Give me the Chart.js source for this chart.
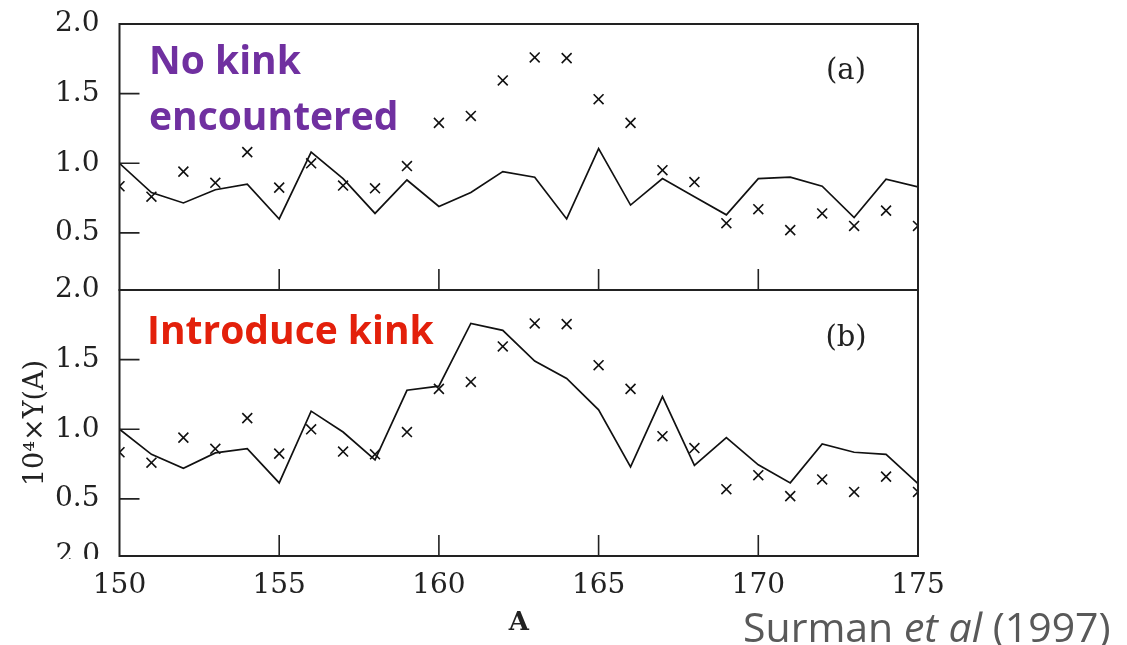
<!DOCTYPE html>
<html>
<head>
<meta charset="utf-8">
<script src="https://cdn.jsdelivr.net/npm/chart.js@4.4.1/dist/chart.umd.min.js"></script>
<style>
  html, body { margin: 0; padding: 0; background: #fff; }
  #wrap { position: relative; width: 1127px; height: 645px; overflow: hidden; }
  #wrap canvas { position: absolute; left: 0; top: 0; }
</style>
</head>
<body>
<div id="wrap">
  <canvas id="panel-a" width="1127" height="645"></canvas>
  <canvas id="panel-b" width="1127" height="645"></canvas>
</div>
<script>
// mass numbers A and 10^4 x Y(A)
const massNumbers = [150, 151, 152, 153, 154, 155, 156, 157, 158, 159, 160, 161, 162,
  163, 164, 165, 166, 167, 168, 169, 170, 171, 172, 173, 174, 175];
const observedYield = [0.835, 0.76, 0.94, 0.86, 1.08, 0.825, 1.0, 0.84, 0.82, 0.98,
  1.29, 1.34, 1.595, 1.76, 1.755, 1.46, 1.29, 0.95, 0.865, 0.57,
  0.67, 0.52, 0.64, 0.55, 0.66, 0.55];
const noKinkYield = [1.0, 0.79, 0.715, 0.81, 0.85, 0.60, 1.08, 0.89, 0.64, 0.88,
  0.69, 0.79, 0.94, 0.90, 0.60, 1.105, 0.70, 0.89, 0.76, 0.63,
  0.89, 0.90, 0.835, 0.61, 0.885, 0.83];
const kinkYield = [1.0, 0.82, 0.72, 0.83, 0.86, 0.615, 1.13, 0.98, 0.78, 1.28,
  1.31, 1.76, 1.71, 1.49, 1.365, 1.14, 0.73, 1.235, 0.74, 0.94,
  0.745, 0.615, 0.895, 0.835, 0.82, 0.61];
const xTicks = [150, 155, 160, 165, 170, 175];
const yTicks = [0.5, 1.0, 1.5, 2.0];

const serif = 'DejaVu Serif';
const sans = 'Open Sans';

// box round the plot with short inward ticks, like the original figure
const framePlugin = {
  id: 'frame',
  afterDatasetsDraw(chart) {
    const { ctx, chartArea: a, scales: { x, y } } = chart;
    ctx.save();
    ctx.strokeStyle = '#222';
    ctx.lineWidth = 2;
    ctx.strokeRect(a.left, a.top, a.right - a.left, a.bottom - a.top);
    ctx.lineWidth = 1.6;
    ctx.beginPath();
    yTicks.forEach((v) => {
      if (v < y.max) {
        const py = y.getPixelForValue(v);
        ctx.moveTo(a.left, py);
        ctx.lineTo(a.left + 20, py);
      }
    });
    xTicks.forEach((v) => {
      if (v > x.min && v < x.max) {
        const px = x.getPixelForValue(v);
        ctx.moveTo(px, a.bottom);
        ctx.lineTo(px, a.bottom - 21);
      }
    });
    ctx.stroke();
    ctx.restore();
  },
};

// free text on the slide (labels, panel letters, citation)
const notesPlugin = {
  id: 'notes',
  afterDraw(chart, args, opts) {
    const ctx = chart.ctx;
    (opts.items || []).forEach((item) => {
      ctx.save();
      if (item.clipBottom) {
        ctx.beginPath();
        ctx.rect(0, 0, chart.width, item.clipBottom);
        ctx.clip();
      }
      ctx.fillStyle = item.color || '#222';
      ctx.textBaseline = item.baseline || 'alphabetic';
      ctx.textAlign = item.align || 'left';
      let x = item.x;
      item.parts.forEach((p) => {
        ctx.font = p.font;
        ctx.fillText(p.text, x, item.y);
        x += ctx.measureText(p.text).width;
      });
      ctx.restore();
    });
  },
};

function points(values) {
  return massNumbers.map((a, i) => ({ x: a, y: values[i] }));
}

function panelConfig(lineValues, isBottom, notes) {
  return {
    type: 'line',
    data: {
      datasets: [
        {
          label: 'calculation',
          data: points(lineValues),
          borderColor: '#111',
          borderWidth: 1.7,
          pointRadius: 0,
          tension: 0,
          fill: false,
        },
        {
          label: 'solar r-process',
          data: points(observedYield),
          showLine: false,
          pointStyle: 'crossRot',
          pointRadius: 7,
          pointBorderWidth: 1.6,
          borderColor: '#111',
          clip: 0,
        },
      ],
    },
    options: {
      responsive: false,
      animation: false,
      events: [],
      layout: {
        padding: { left: 0, right: 209, top: isBottom ? 290 : 24, bottom: isBottom ? 0 : 355 },
      },
      plugins: {
        legend: { display: false },
        tooltip: { enabled: false },
        notes: { items: notes },
      },
      scales: {
        x: {
          type: 'linear',
          min: 150,
          max: 175,
          display: isBottom,
          afterFit: (s) => {
            s.height = isBottom ? 89 : 0;
            s.paddingLeft = 0;
            s.paddingRight = 0;
          },
          afterBuildTicks: (s) => { s.ticks = xTicks.map((v) => ({ value: v })); },
          grid: { display: false, drawTicks: false },
          border: { display: false },
          ticks: { padding: 13, color: '#222', font: { family: serif, size: 28 } },
          title: {
            display: true,
            text: 'A',
            color: '#222',
            font: { family: serif, size: 26, weight: 'bold' },
            padding: { top: 0, bottom: 6 },
          },
        },
        y: {
          min: 0.09,
          max: 2.0,
          afterFit: (s) => {
            s.width = 119.5;
            s.paddingTop = 0;
            s.paddingBottom = 0;
          },
          afterBuildTicks: (s) => { s.ticks = yTicks.map((v) => ({ value: v })); },
          grid: { display: false, drawTicks: false },
          border: { display: false },
          ticks: {
            padding: 20,
            color: '#222',
            font: { family: serif, size: 28 },
            callback: (v) => v.toFixed(1),
          },
          title: {
            display: isBottom,
            text: '10⁴×Y(A)',
            color: '#222',
            font: { family: serif, size: 27 },
            padding: { top: 20, bottom: 0 },
          },
        },
      },
    },
    plugins: [framePlugin, notesPlugin],
  };
}

const purple = '#7030a0';
const red = '#e3200b';

new Chart(document.getElementById('panel-a'), panelConfig(noKinkYield, false, [
  { x: 149, y: 73.5, color: purple, parts: [{ text: 'No kink', font: `bold 39px "${sans}"` }] },
  { x: 149, y: 130, color: purple, parts: [{ text: 'encountered', font: `bold 39px "${sans}"` }] },
  { x: 846, y: 71, align: 'center', baseline: 'middle', parts: [{ text: '(a)', font: `29px "${serif}"` }] },
]));

new Chart(document.getElementById('panel-b'), panelConfig(kinkYield, true, [
  { x: 147, y: 344, color: red, parts: [{ text: 'Introduce kink', font: `bold 39px "${sans}"` }] },
  { x: 846, y: 338, align: 'center', baseline: 'middle', parts: [{ text: '(b)', font: `29px "${serif}"` }] },
  { x: 100, y: 556, align: 'right', baseline: 'middle', clipBottom: 559, parts: [{ text: '2.0', font: `28px "${serif}"` }] },
  {
    x: 743, y: 642, color: '#595959',
    parts: [
      { text: 'Surman ', font: `41px "${sans}"` },
      { text: 'et al', font: `italic 41px "${sans}"` },
      { text: ' (1997)', font: `41px "${sans}"` },
    ],
  },
]));
</script>
</body>
</html>
